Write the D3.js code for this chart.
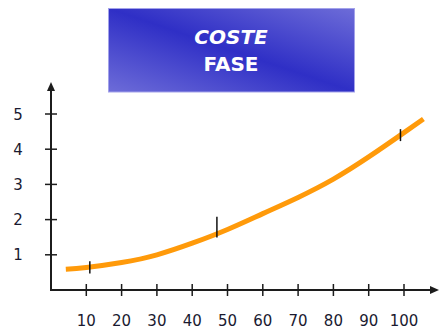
<!DOCTYPE html>
<html>
<head>
<meta charset="utf-8">
<script src="https://cdn.jsdelivr.net/npm/d3@7"></script>
<style>
  html, body { margin: 0; padding: 0; background: #fff; }
  svg { display: block; }
</style>
</head>
<body>
<svg id="chart" width="443" height="332"></svg>
<script>
// ---- data ----
const titleLines = ["COSTE", "FASE"];
const xTicks = [10, 20, 30, 40, 50, 60, 70, 80, 90, 100];
const yTicks = [1, 2, 3, 4, 5];
const curveX = [4.2, 10, 20, 30, 40, 50, 60, 70, 80, 90, 100, 105.5];
const curveY = [0.59, 0.64, 0.78, 1.0, 1.33, 1.72, 2.17, 2.63, 3.15, 3.78, 4.47, 4.86];
const markerX = [11, 47, 99];
const markerLow = [0.47, 1.49, 4.23];
const markerHigh = [0.82, 2.08, 4.57];

// ---- layout ----
const svg = d3.select("#chart");
const x = d3.scaleLinear().domain([0, 100]).range([51, 404]);
const y = d3.scaleLinear().domain([0, 5]).range([290, 114]);

// title box
const defs = svg.append("defs");
const grad = defs.append("linearGradient").attr("id", "tg")
  .attr("x1", 0).attr("y1", 1).attr("x2", 1).attr("y2", 0);
grad.append("stop").attr("offset", 0).attr("stop-color", "#6d6cd8");
grad.append("stop").attr("offset", 0.5).attr("stop-color", "#2f2fc6");
grad.append("stop").attr("offset", 1).attr("stop-color", "#6d6cd8");

svg.append("rect")
  .attr("x", 108.5).attr("y", 8.5).attr("width", 246).attr("height", 83.5)
  .attr("fill", "url(#tg)").attr("stroke", "#a3a2ea").attr("stroke-width", 1);

svg.selectAll("text.title").data(titleLines).enter().append("text")
  .attr("class", "title")
  .attr("x", 231).attr("y", (d, i) => 44 + i * 27)
  .attr("text-anchor", "middle")
  .attr("font-family", "DejaVu Sans, sans-serif")
  .attr("font-weight", "bold")
  .attr("font-style", (d, i) => i === 0 ? "italic" : "normal")
  .attr("font-size", 20)
  .attr("fill", "#ffffff")
  .text(d => d);

// axes
const axisColor = "#1c1c1c";
svg.append("line").attr("x1", x(0)).attr("y1", y(0)).attr("x2", x(0)).attr("y2", 88)
  .attr("stroke", axisColor).attr("stroke-width", 2);
svg.append("line").attr("x1", x(0) - 1).attr("y1", y(0)).attr("x2", 432).attr("y2", y(0))
  .attr("stroke", axisColor).attr("stroke-width", 2);
// arrowheads
svg.append("path").attr("d", `M${x(0)},82 L${x(0) - 4},91 L${x(0) + 4},91 Z`).attr("fill", axisColor);
svg.append("path").attr("d", `M439,${y(0)} L430,${y(0) - 4} L430,${y(0) + 4} Z`).attr("fill", axisColor);

// y ticks
svg.selectAll("line.yt").data(yTicks).enter().append("line")
  .attr("x1", x(0) - 6).attr("x2", x(0) + 6)
  .attr("y1", d => y(d)).attr("y2", d => y(d))
  .attr("stroke", axisColor).attr("stroke-width", 1.5);
svg.selectAll("text.yl").data(yTicks).enter().append("text")
  .attr("x", 18).attr("y", d => y(d) + 5.5)
  .attr("text-anchor", "middle")
  .attr("font-family", "DejaVu Sans, sans-serif").attr("font-size", 15)
  .attr("fill", "#1a1a30")
  .text(d => d);

// x ticks
svg.selectAll("line.xt").data(xTicks).enter().append("line")
  .attr("x1", d => x(d)).attr("x2", d => x(d))
  .attr("y1", y(0) - 6).attr("y2", y(0) + 6)
  .attr("stroke", axisColor).attr("stroke-width", 1.5);
svg.selectAll("text.xl").data(xTicks).enter().append("text")
  .attr("x", d => x(d)).attr("y", 326)
  .attr("text-anchor", "middle")
  .attr("font-family", "DejaVu Sans, sans-serif").attr("font-size", 15)
  .attr("fill", "#1a1a30")
  .text(d => d);

// curve
const pts = curveX.map((d, i) => [d, curveY[i]]);
const line = d3.line().x(d => x(d[0])).y(d => y(d[1])).curve(d3.curveNatural);
svg.append("path").datum(pts).attr("d", line)
  .attr("fill", "none").attr("stroke", "#ff9a0a").attr("stroke-width", 5)
  .attr("stroke-linecap", "butt");

// markers
svg.selectAll("line.mk").data(markerX).enter().append("line")
  .attr("x1", d => x(d)).attr("x2", d => x(d))
  .attr("y1", (d, i) => y(markerLow[i])).attr("y2", (d, i) => y(markerHigh[i]))
  .attr("stroke", "#111").attr("stroke-width", 1.5);
</script>
</body>
</html>
